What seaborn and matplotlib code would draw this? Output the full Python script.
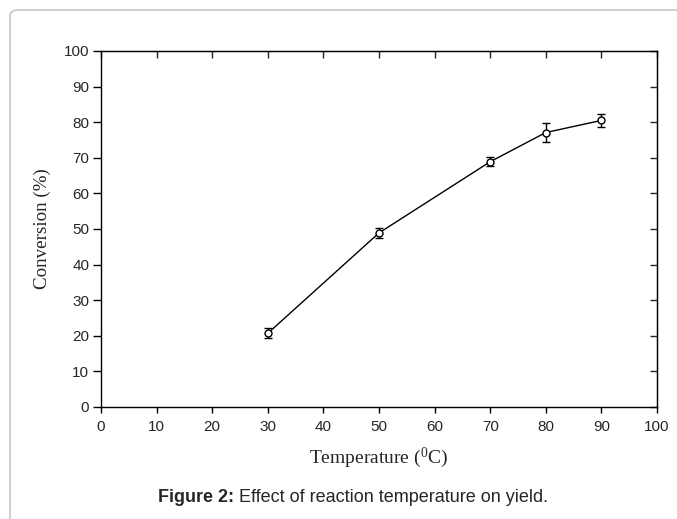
import matplotlib
matplotlib.use("Agg")
import matplotlib.pyplot as plt
from matplotlib.patches import FancyBboxPatch
import seaborn as sns
import pandas as pd

# Reaction temperature study: mean conversion with error
temperature = [30, 50, 70, 80, 90]
conversion = [20.7, 48.9, 68.9, 77.1, 80.5]
conversion_err = [1.4, 1.3, 1.3, 2.6, 1.9]

x_ticks = [0, 10, 20, 30, 40, 50, 60, 70, 80, 90, 100]
y_ticks = [0, 10, 20, 30, 40, 50, 60, 70, 80, 90, 100]

df = pd.DataFrame({"Temperature": temperature, "Conversion": conversion})

sns.set_style("white")
plt.rcParams["font.family"] = ["Liberation Sans", "DejaVu Sans"]

fig = plt.figure(figsize=(6.77, 5.19), dpi=100)

# rounded page frame, open to the right and bottom
frame = FancyBboxPatch((10 / 677, -0.2), 1.2, 1.0 - 10 / 519 + 0.2,
                       boxstyle="round,pad=0,rounding_size=0.012",
                       transform=fig.transFigure, facecolor="none",
                       edgecolor="#cccccc", linewidth=1.3, clip_on=False)
fig.patches.append(frame)

ax = fig.add_axes([101 / 677, 1 - 407 / 519, 556 / 677, 356 / 519])

ax.errorbar(temperature, conversion, yerr=conversion_err, fmt="none",
            ecolor="black", elinewidth=1.0, capsize=3, capthick=1.0, zorder=2)
sns.lineplot(data=df, x="Temperature", y="Conversion", ax=ax, color="black",
             linewidth=1.0, marker="o", markersize=5, markerfacecolor="white",
             markeredgecolor="black", markeredgewidth=1.0, zorder=3)

ax.set_xlim(0, 100)
ax.set_ylim(0, 100)
ax.set_xticks(x_ticks)
ax.set_yticks(y_ticks)

for side in ["left", "right", "top", "bottom"]:
    ax.spines[side].set_visible(True)
    ax.spines[side].set_color("black")
    ax.spines[side].set_linewidth(1.0)

ax.tick_params(axis="x", direction="out", length=4.5, width=1.0,
               color="black", labelsize=11, pad=5, bottom=True)
ax.tick_params(axis="y", direction="out", length=6, width=1.0,
               color="black", labelsize=11, pad=2.5, left=True)
# inner ticks on top and right
secx = ax.secondary_xaxis("top")
secx.set_xticks(x_ticks)
secx.tick_params(direction="in", length=5, width=1.0, labeltop=False)
secy = ax.secondary_yaxis("right")
secy.set_yticks(y_ticks)
secy.tick_params(direction="in", length=5, width=1.0, labelright=False)

serif = ["Liberation Serif", "DejaVu Serif"]
ax.set_xlabel("Temperature ($\\mathregular{^{0}}$C)", fontsize=14,
              family=serif, labelpad=8)
ax.set_ylabel("Conversion (%)", fontsize=13.7, family=serif, labelpad=9)

# caption: bold lead-in followed by regular text
lead = fig.text(158 / 677, 1 - 501.5 / 519, "Figure 2:", fontsize=13,
                fontweight="bold", ha="left", va="baseline")
ax.annotate(" Effect of reaction temperature on yield.", xy=(1, 0),
            xycoords=lead, fontsize=13, ha="left", va="bottom",
            annotation_clip=False)

fig.savefig("out.png", dpi=100)
